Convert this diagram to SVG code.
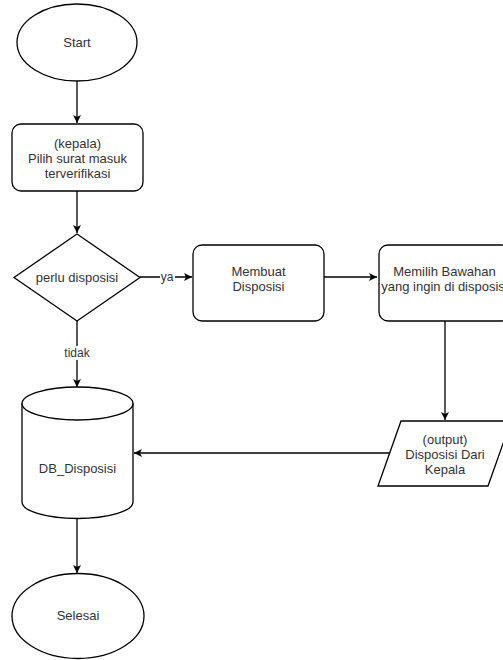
<svg xmlns="http://www.w3.org/2000/svg" width="503" height="660" viewBox="0 0 503 660">
<style>
.s{fill:#fff;stroke:#000;stroke-width:1.3}
.t{font-family:"Liberation Sans",Arial,sans-serif;font-size:13px;fill:#333;text-anchor:middle}
.l{font-family:"Liberation Sans",Arial,sans-serif;font-size:12px;fill:#333;text-anchor:middle}
.c{fill:none;stroke:#000;stroke-width:1.3}
</style>
<defs>
<marker id="a" markerWidth="10" markerHeight="10" refX="8" refY="4" orient="auto" markerUnits="userSpaceOnUse">
<path d="M0,0 L8,4 L0,8 L2,4 Z" fill="#000"/>
</marker>
</defs>
<rect width="503" height="660" fill="#fff"/>
<g id="connectors">
<line class="c" x1="77" y1="81" x2="77" y2="123" marker-end="url(#a)"/>
<line class="c" x1="77" y1="191" x2="77" y2="233" marker-end="url(#a)"/>
<line class="c" x1="140" y1="277" x2="192" y2="277" marker-end="url(#a)"/>
<rect x="160" y="270" width="15" height="14" fill="#fff"/>
<text class="l" x="167" y="281">ya</text>
<line class="c" x1="324" y1="277" x2="377" y2="277" marker-end="url(#a)"/>
<line class="c" x1="445" y1="321" x2="445" y2="420" marker-end="url(#a)"/>
<line class="c" x1="390" y1="453" x2="134" y2="453" marker-end="url(#a)"/>
<line class="c" x1="77" y1="321" x2="77" y2="387" marker-end="url(#a)"/>
<rect x="61" y="346" width="32" height="14" fill="#fff"/>
<text class="l" x="77" y="357">tidak</text>
<line class="c" x1="77" y1="518" x2="77" y2="573" marker-end="url(#a)"/>
</g>
<g id="start">
<ellipse class="s" cx="77" cy="42.5" rx="60" ry="38.5"/>
<text class="t" x="77" y="47">Start</text>
</g>
<g id="pilih">
<rect class="s" x="12" y="124" width="131" height="67" rx="9"/>
<text class="t" x="77.5" y="148">(kepala)</text>
<text class="t" x="77.5" y="163">Pilih surat masuk</text>
<text class="t" x="77.5" y="178">terverifikasi</text>
</g>
<g id="perlu">
<polygon class="s" points="77,234 140,277.5 77,321 14,277.5"/>
<text class="t" x="77" y="282">perlu disposisi</text>
</g>
<g id="membuat">
<rect class="s" x="193" y="245" width="131" height="76" rx="9"/>
<text class="t" x="258.5" y="276">Membuat</text>
<text class="t" x="258.5" y="291">Disposisi</text>
</g>
<g id="memilih">
<rect class="s" x="379" y="245" width="131" height="76" rx="9"/>
<text class="t" x="444.5" y="276">Memilih Bawahan</text>
<text class="t" x="444.5" y="291">yang ingin di disposisi</text>
</g>
<g id="output">
<polygon class="s" points="401,421 511,421 488,486 378,486"/>
<text class="t" x="445" y="444">(output)</text>
<text class="t" x="445" y="459">Disposisi Dari</text>
<text class="t" x="445" y="474">Kepala</text>
</g>
<g id="db">
<path class="s" d="M22,403.5 A55.5,16.5 0 0 1 133,403.5 L133,502 A55.5,16.5 0 0 1 22,502 Z"/>
<path class="c" d="M22,403.5 A55.5,16.5 0 0 0 133,403.5"/>
<text class="t" x="77.5" y="473">DB_Disposisi</text>
</g>
<g id="selesai">
<ellipse class="s" cx="78" cy="616" rx="66" ry="42.5"/>
<text class="t" x="78" y="620">Selesai</text>
</g>
</svg>
